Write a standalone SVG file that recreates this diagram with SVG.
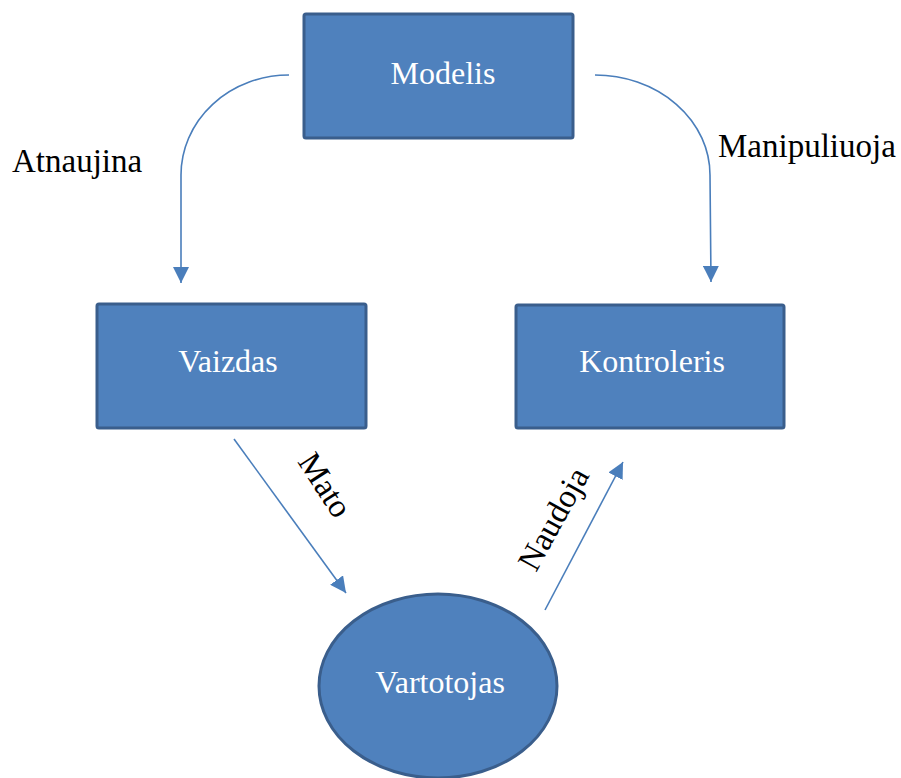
<svg xmlns="http://www.w3.org/2000/svg" width="901" height="778" viewBox="0 0 901 778">
  <style>
    .box { fill: #4f81bd; stroke: #3a5e8c; stroke-width: 3; }
    .nodetext { font-family: "Liberation Serif", "Times New Roman", serif; font-size: 32px; fill: #ffffff; text-anchor: middle; }
    .label { font-family: "Liberation Serif", "Times New Roman", serif; font-size: 33px; fill: #000000; }
    .edge { fill: none; stroke: #4a7ebb; stroke-width: 1.6; }
  </style>
  <defs>
    <marker id="head" viewBox="0 0 16 16" refX="16" refY="8" markerWidth="16" markerHeight="16" markerUnits="userSpaceOnUse" orient="auto">
      <path d="M0,0 L16,8 L0,16 Z" fill="#4a7ebb"/>
    </marker>
  </defs>

  <g id="connectors">
    <path class="edge" d="M289,75 A108,100 0 0 0 181,175 L181,283" marker-end="url(#head)"/>
    <path class="edge" d="M595,75 A115,100 0 0 1 710,175 L711,282" marker-end="url(#head)"/>
    <path class="edge" d="M234,439 L346,593" marker-end="url(#head)"/>
    <path class="edge" d="M545,610 L623,462" marker-end="url(#head)"/>
  </g>

  <g id="modelis">
    <rect class="box" x="304" y="14" width="269" height="124" rx="2"/>
    <text class="nodetext" x="443" y="84">Modelis</text>
  </g>
  <g id="vaizdas">
    <rect class="box" x="97" y="304" width="269" height="124" rx="2"/>
    <text class="nodetext" x="228" y="372">Vaizdas</text>
  </g>
  <g id="kontroleris">
    <rect class="box" x="516" y="305" width="268" height="123" rx="2"/>
    <text class="nodetext" x="652" y="372">Kontroleris</text>
  </g>
  <g id="vartotojas">
    <ellipse class="box" cx="438" cy="686" rx="119" ry="92"/>
    <text class="nodetext" x="440" y="693">Vartotojas</text>
  </g>

  <g id="labels">
    <text class="label" x="12" y="172">Atnaujina</text>
    <text class="label" x="718" y="157">Manipuliuoja</text>
    <text class="label" text-anchor="middle" transform="translate(316,491) rotate(57)">Mato</text>
    <text class="label" text-anchor="middle" transform="translate(563,524) rotate(-61)">Naudoja</text>
  </g>
</svg>
